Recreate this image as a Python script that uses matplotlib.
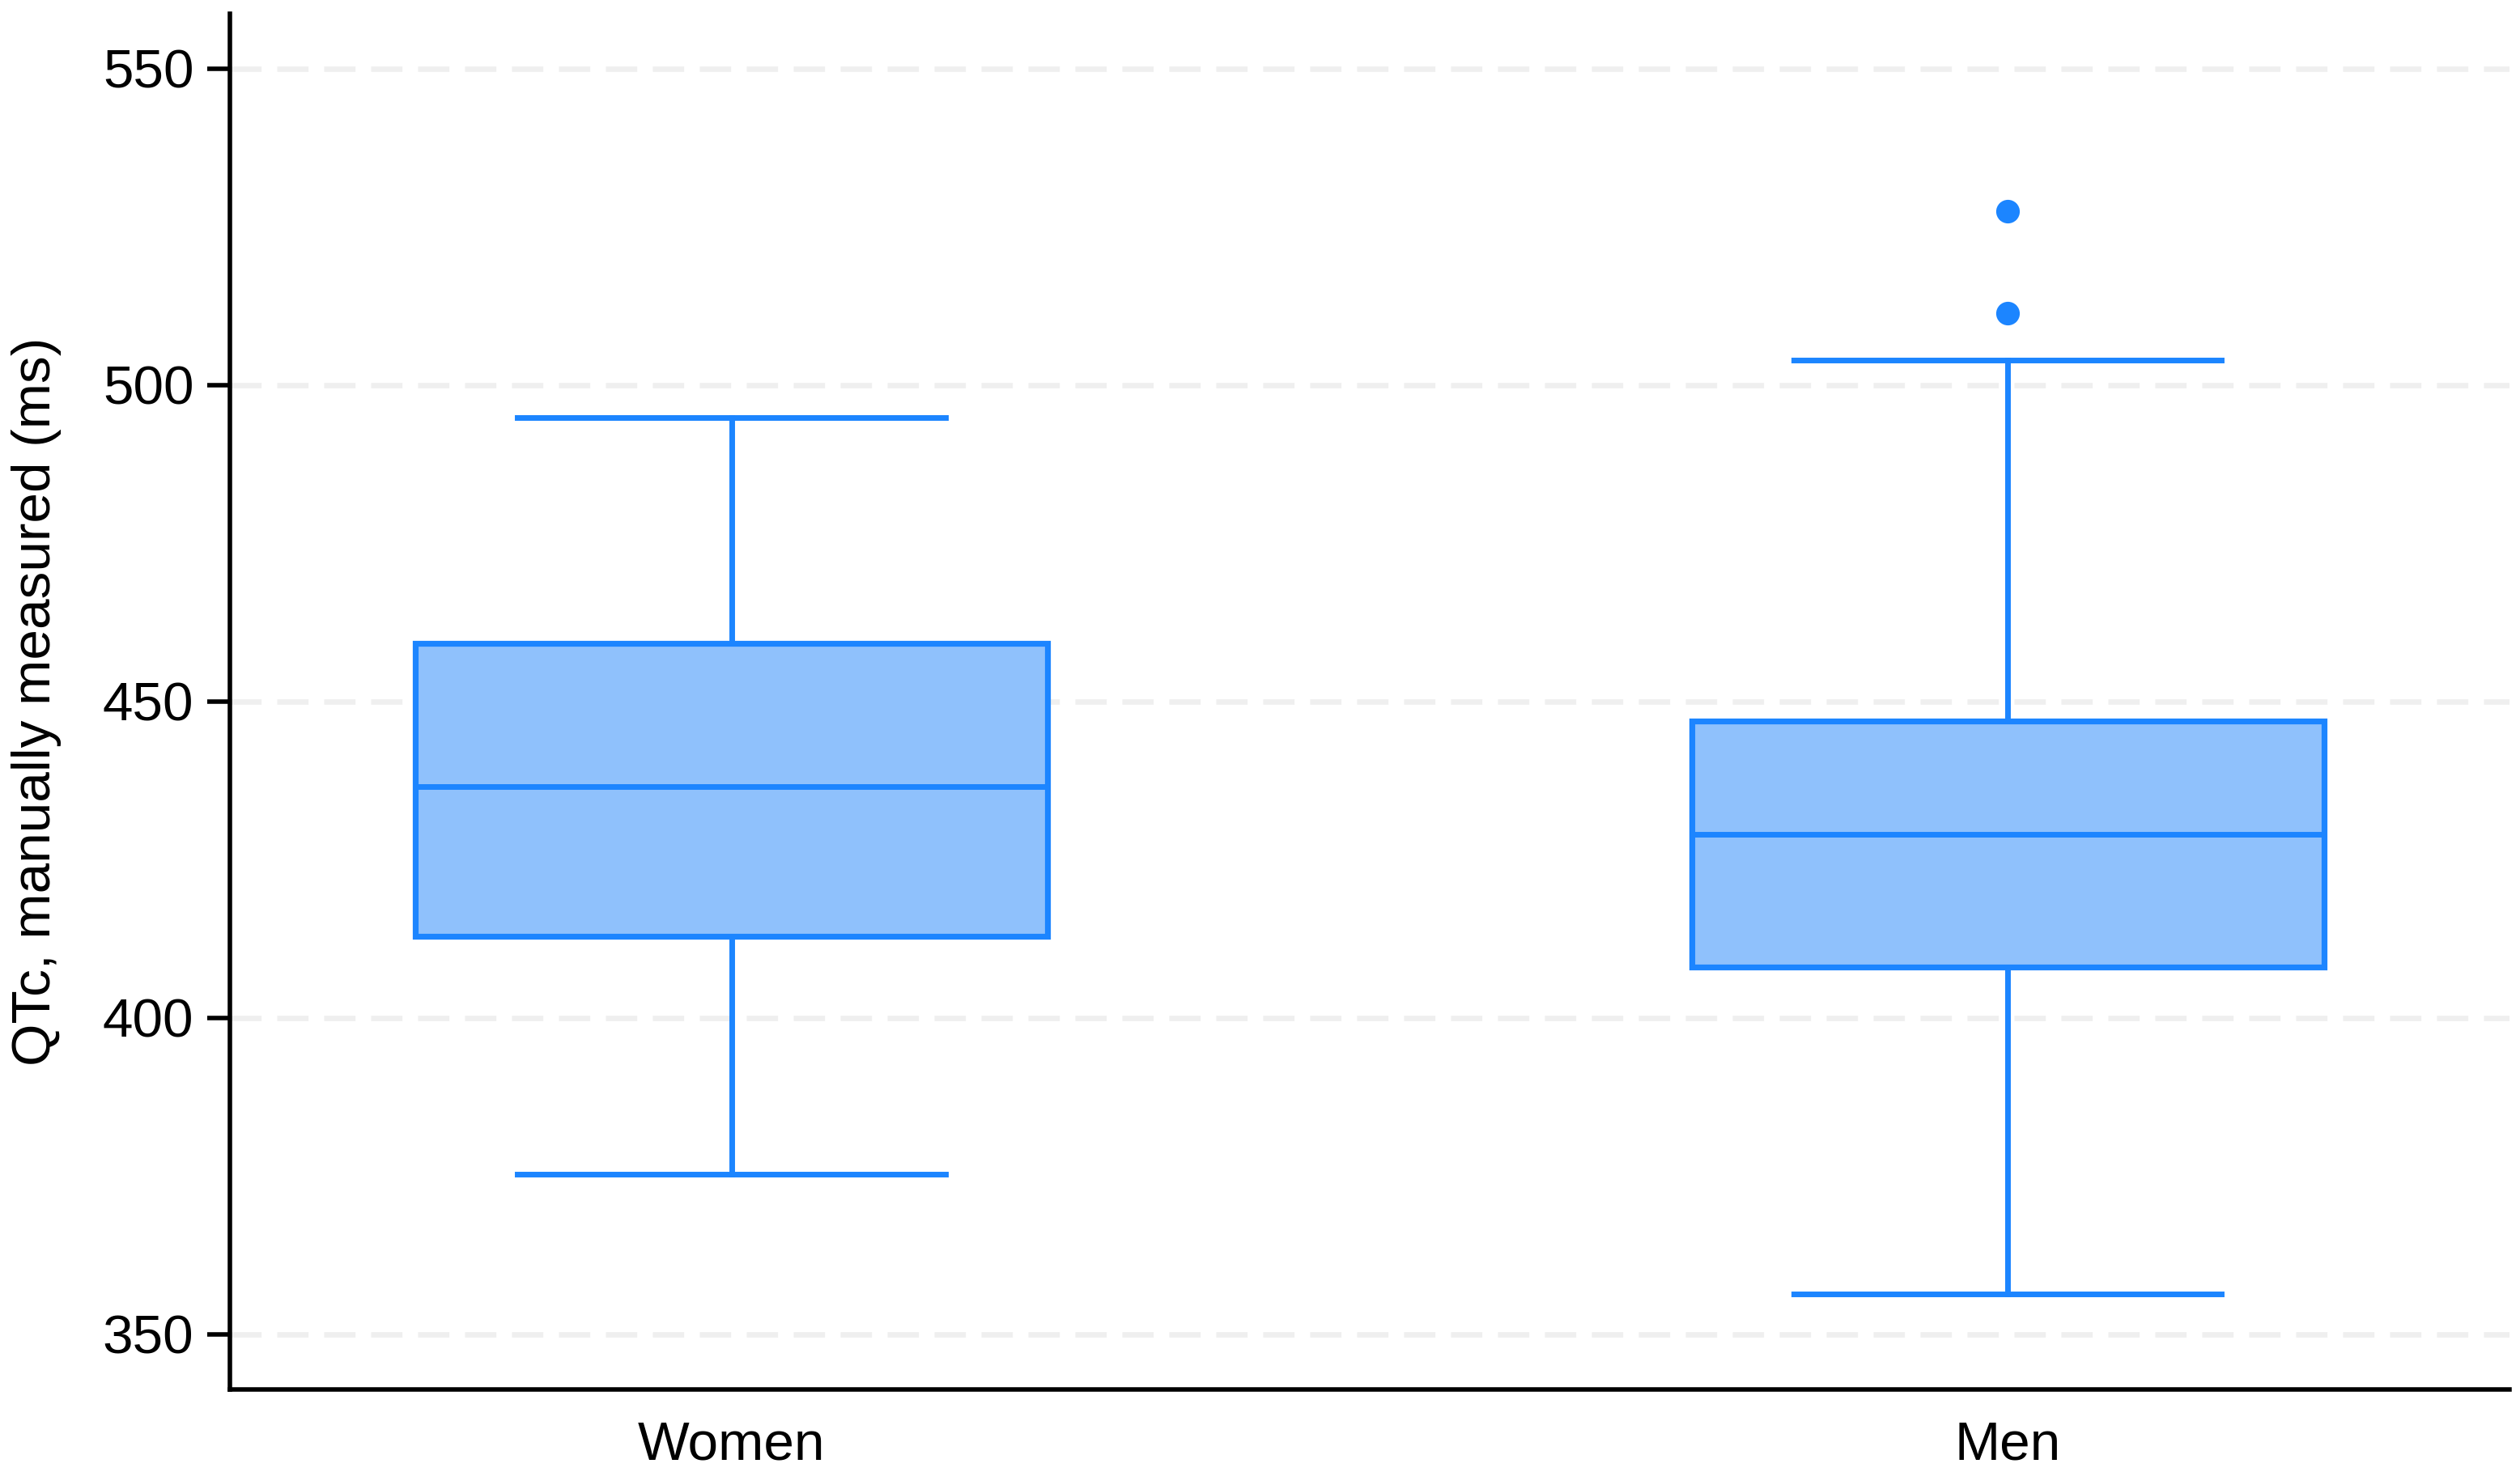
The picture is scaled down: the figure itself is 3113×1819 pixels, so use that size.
import matplotlib.pyplot as plt

# donnees (QTc en ms)
groupes = ['Women', 'Men']
moustache_bas = [375.3, 356.3]
q1 = [412.9, 408.0]
mediane = [436.6, 429.0]
q3 = [459.2, 446.9]
moustache_haut = [494.9, 503.9]
valeurs_extremes = [[], [511.4, 527.5]]

graduations_y = [350, 400, 450, 500, 550]

plt.rcParams['font.family'] = ['Liberation Sans', 'DejaVu Sans']

bleu = '#1c85ff'
bleu_clair = '#8fc1fc'
taille_texte = 24.3


def trace_boites():
  fig = plt.figure(figsize=(15.565, 9.095), dpi=200)
  ax = fig.add_axes([0.0912, 0.0562, 0.9046, 0.9346])

  stats = []
  for i in range(len(groupes)):
    stats.append({
      'label': groupes[i],
      'whislo': moustache_bas[i],
      'q1': q1[i],
      'med': mediane[i],
      'q3': q3[i],
      'whishi': moustache_haut[i],
      'fliers': valeurs_extremes[i],
    })

  ax.bxp(stats, positions=[0, 1], widths=0.495, capwidths=0.335,
         patch_artist=True, showfliers=True,
         boxprops=dict(facecolor=bleu_clair, edgecolor=bleu, linewidth=2.6),
         medianprops=dict(color=bleu, linewidth=2.5),
         whiskerprops=dict(color=bleu, linewidth=2.5),
         capprops=dict(color=bleu, linewidth=2.5),
         flierprops=dict(marker='o', markerfacecolor=bleu, markeredgecolor=bleu,
                         markersize=9.5, linestyle='none'))

  # grille horizontale en tirets gris clair
  ax.yaxis.grid(True, color='#efefef', linewidth=2.4, linestyle=(0, (5.8, 2.9)))
  ax.set_axisbelow(True)

  ax.set_xlim(-0.393, 1.393)
  ax.set_ylim(341.3, 558.7)
  ax.set_yticks(graduations_y)

  for cote in ['top', 'right']:
    ax.spines[cote].set_visible(False)
  for cote in ['left', 'bottom']:
    ax.spines[cote].set_linewidth(2)

  ax.tick_params(axis='y', length=10, width=2, pad=6, labelsize=taille_texte)
  ax.tick_params(axis='x', length=0, pad=14, labelsize=taille_texte)

  ax.set_ylabel('QTc, manually measured (ms)', fontsize=taille_texte)
  ax.yaxis.set_label_coords(-0.0738, 0.5)

  fig.savefig('out.png', dpi=200)


trace_boites()
